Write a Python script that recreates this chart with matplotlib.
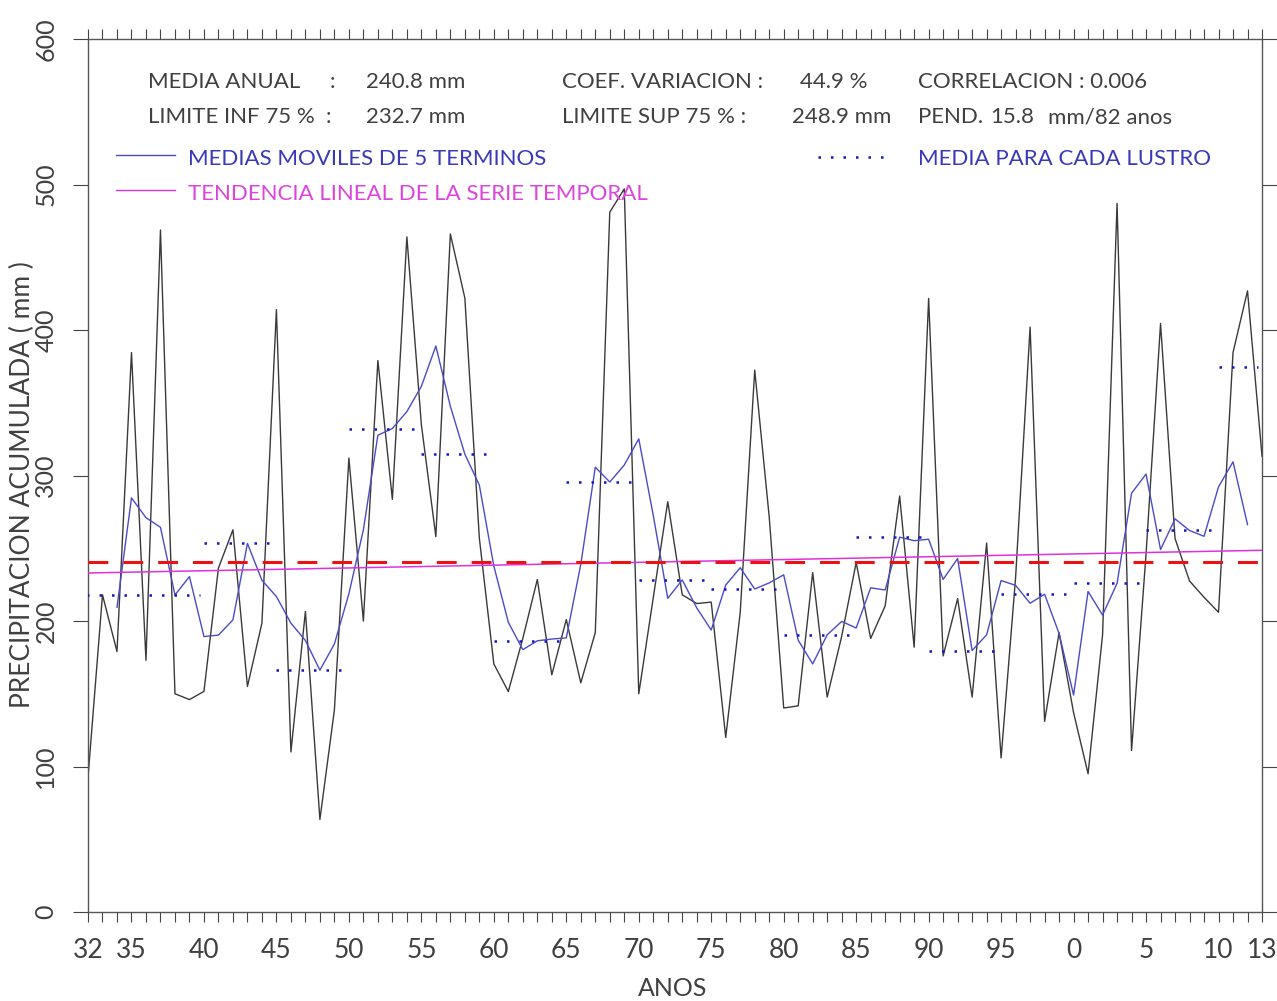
import numpy as np
import matplotlib
matplotlib.use('Agg')
import matplotlib.pyplot as plt
from matplotlib.lines import Line2D

plt.rcParams['font.family'] = ['Lato', 'DejaVu Sans']

# precipitacion anual acumulada (mm), 1932-2013
anos = np.arange(1932, 2014)
precip = [92.5, 218, 179, 384.5, 173, 468.7, 150, 146, 151.6, 236.4,
          262.7, 155, 198.5, 414, 110, 206.6, 63.6, 138.8, 312, 200,
          379, 283.6, 464, 335, 258, 466, 422, 257, 170.5, 151.5,
          188, 228.5, 163, 201, 157.5, 192, 481, 497, 150, 216,
          282, 218, 212, 213, 120, 206, 372.4, 271.5, 140.2, 141.7,
          233.3, 147.7, 189.5, 240.2, 188, 210.4, 285.9, 182, 421.7, 176,
          215.4, 147.7, 253.6, 105.9, 230, 402, 131, 192, 137, 95,
          190.5, 487, 111, 246, 404.5, 256.7, 227.5, 216.3, 206, 384.5,
          426.9, 313.4]

# medias moviles de 5 terminos, 1934-2012
anos_mm = np.arange(1934, 2013)
medias_moviles = [209.4, 284.6, 271.0, 264.4, 217.9, 230.5, 189.3, 190.3, 200.8, 253.3,
                  228.0, 216.8, 198.5, 186.6, 166.2, 184.2, 218.7, 262.7, 327.7, 332.3,
                  343.9, 361.3, 389.0, 347.6, 314.7, 293.4, 237.8, 199.1, 180.3, 186.4,
                  187.6, 188.4, 238.9, 305.7, 295.5, 307.2, 325.2, 272.6, 215.6, 228.2,
                  209.0, 193.8, 224.7, 236.6, 222.0, 226.2, 231.7, 186.8, 170.5, 190.5,
                  199.7, 195.2, 222.8, 221.3, 257.6, 255.2, 256.2, 228.6, 242.9, 179.7,
                  190.5, 227.8, 224.5, 212.2, 218.4, 191.4, 149.1, 220.3, 204.1, 225.9,
                  287.8, 301.0, 249.1, 270.2, 262.2, 258.2, 292.2, 309.4, 266.3]

# media de cada lustro
lustro_ini = [1932, 1941, 1946, 1951, 1956, 1961, 1966, 1971, 1976, 1981, 1986, 1991, 1996, 2001, 2006, 2011]
lustro_fin = [1940, 1945, 1950, 1955, 1960, 1965, 1970, 1975, 1980, 1985, 1990, 1995, 2000, 2005, 2010, 2013]
lustro_media = [218.1, 253.3, 166.2, 332.3, 314.7, 186.4, 295.5, 228.2, 222.0, 190.5, 257.6, 179.7, 218.4, 225.9, 262.2, 374.9]

media_anual = 240.8
tendencia = [233.0, 248.6]   # valores en 1932 y 2013

ticks_anos = [1932, 1935, 1940, 1945, 1950, 1955, 1960, 1965, 1970, 1975, 1980,
              1985, 1990, 1995, 2000, 2005, 2010, 2013]
ticks_etiq = ['32', '35', '40', '45', '50', '55', '60', '65', '70', '75', '80',
              '85', '90', '95', '0', '5', '10', '13']

W, H = 1277, 1001
def px(x, y):
    return x / W, 1 - y / H

gris = '#404040'
azul = '#4b4bc8'
azul_txt = '#3a3ab8'
azul_pto = '#1414c8'
magenta = '#e030e0'

fig = plt.figure(figsize=(W / 100, H / 100), dpi=100)
ax = fig.add_axes([88 / W, 89 / H, 1174 / W, 873 / H])

ax.plot(anos, precip, color='#3a3a3a', lw=1.0, zorder=2)
ax.plot(anos_mm, medias_moviles, color=azul, lw=1.0, zorder=3)
for i in range(len(lustro_ini)):
    ax.plot([lustro_ini[i] - 1, lustro_fin[i] - 0.3], [lustro_media[i]] * 2,
            color=azul_pto, lw=1.8, linestyle=(0, (1, 4)), zorder=4)
ax.plot([anos[0], anos[-1]], tendencia, color=magenta, lw=1.1, zorder=4)
ax.axhline(media_anual, color='#ee1111', lw=2.2, dashes=(6.5, 4.9), zorder=5)

ax.set_xlim(1932, 2013)
ax.set_ylim(0, 600)

etiquetas = [ticks_etiq[ticks_anos.index(a)] if a in ticks_anos else '' for a in anos]
ax.set_xticks(anos)
ax.set_xticklabels(etiquetas)
ax.set_yticks(np.arange(0, 601, 100))
ax.tick_params(axis='x', direction='out', length=7, width=0.8, top=True, bottom=True,
               labelsize=19, pad=12, colors='#444444', labelcolor=gris)
ax.tick_params(axis='y', direction='out', length=11, width=0.8, left=True, right=True,
               labelsize=18, pad=11, colors='#444444', labelcolor=gris)
for lab in ax.get_yticklabels():
    lab.set_rotation(90)
    lab.set_va('center')
for s in ax.spines.values():
    s.set_color('#555555')
    s.set_linewidth(1.0)

fs = 16
def texto(x, y, s, color=gris):
    fig.text(*px(x, y), s, fontsize=fs, color=color, ha='left', va='baseline')

texto(148, 88, 'MEDIA ANUAL')
texto(330, 88, ':')
texto(366, 88, '240.8 mm')
texto(148, 123, 'LIMITE INF 75 %')
texto(326, 123, ':')
texto(366, 123, '232.7 mm')
texto(562, 88, 'COEF. VARIACION :')
texto(800, 88, '44.9 %')
texto(918, 88, 'CORRELACION : 0.006')
texto(562, 123, 'LIMITE SUP 75 % :')
texto(792, 123, '248.9 mm')
texto(918, 123, 'PEND.')
texto(990, 123, '15.8')
texto(1048, 123, 'mm/82 anos')

fig.add_artist(Line2D([116 / W, 175 / W], [1 - 155 / H] * 2, color=azul, lw=1.0))
texto(188, 165, 'MEDIAS MOVILES DE 5 TERMINOS', azul_txt)
fig.add_artist(Line2D([116 / W, 175 / W], [1 - 190 / H] * 2, color=magenta, lw=1.0))
texto(188, 200, 'TENDENCIA LINEAL DE LA SERIE TEMPORAL', '#dd44dd')
fig.add_artist(Line2D([818 / W, 888 / W], [1 - 157 / H] * 2, color=azul_pto, lw=1.8,
                      linestyle=(0, (1, 4))))
texto(918, 165, 'MEDIA PARA CADA LUSTRO', azul_txt)

fig.text(*px(22, 485), 'PRECIPITACION ACUMULADA ( mm )', fontsize=19, color=gris,
         rotation=90, ha='center', va='center')
fig.text(*px(673, 988), 'ANOS', fontsize=18, color=gris, ha='center', va='center')

fig.savefig('out.png', dpi=100, facecolor='white')
